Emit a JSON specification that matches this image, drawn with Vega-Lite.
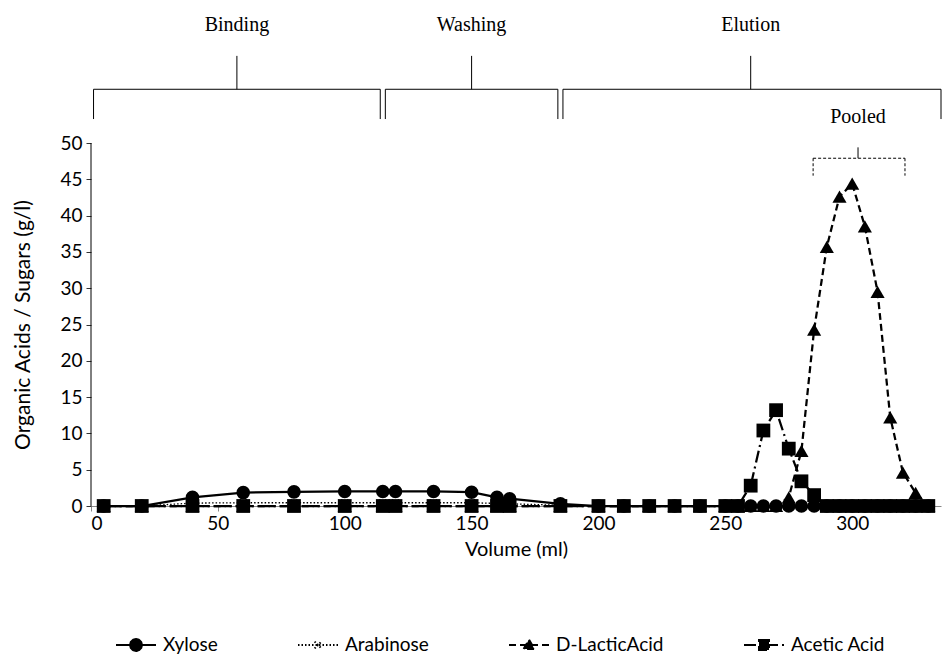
{
  "$schema": "https://vega.github.io/schema/vega-lite/v6.json",
  "width": 850,
  "height": 363,
  "padding": {"left": 12, "top": 15, "right": 3, "bottom": 8},
  "background": "white",
  "config": {
    "view": {"stroke": null},
    "font": "Lato",
    "axis": {"grid": false},
    "axisX": {"labelFont": "Lato", "labelFontSize": 19, "labelColor": "black", "titleFont": "Lato", "titleFontSize": 20, "titleFontWeight": "normal", "titleColor": "black", "domainColor": "#888888", "tickColor": "#888888", "tickSize": 5, "labelPadding": 3, "titlePadding": 6},
    "axisY": {"domain": false, "labelFont": "Lato", "labelFontSize": 19, "labelColor": "black", "titleFont": "Lato", "titleFontSize": 21, "titleFontWeight": "normal", "titleColor": "black", "tickColor": "#333333", "tickSize": 5, "labelPadding": 4, "titlePadding": 26},
    "legend": {"orient": "none", "legendX": 24, "legendY": 481, "direction": "horizontal", "columns": 4, "labelFont": "Lato", "labelFontSize": 19, "labelColor": "black", "columnPadding": 76, "labelOffset": 6, "symbolSize": 1600, "symbolStrokeWidth": 2}
  },
  "datasets": {
    "fractions": [
      {"v":5,"s":"Xylose","c":0},{"v":20,"s":"Xylose","c":0},{"v":40,"s":"Xylose","c":1.2},{"v":60,"s":"Xylose","c":1.85},{"v":80,"s":"Xylose","c":1.95},{"v":100,"s":"Xylose","c":2.0},{"v":115,"s":"Xylose","c":2.0},{"v":120,"s":"Xylose","c":2.0},{"v":135,"s":"Xylose","c":2.0},{"v":150,"s":"Xylose","c":1.9},{"v":160,"s":"Xylose","c":1.2},{"v":165,"s":"Xylose","c":1.0},{"v":185,"s":"Xylose","c":0.3},{"v":200,"s":"Xylose","c":0},{"v":210,"s":"Xylose","c":0},{"v":220,"s":"Xylose","c":0},{"v":230,"s":"Xylose","c":0},{"v":240,"s":"Xylose","c":0},{"v":250,"s":"Xylose","c":0},{"v":255,"s":"Xylose","c":0},{"v":260,"s":"Xylose","c":0},{"v":265,"s":"Xylose","c":0},{"v":270,"s":"Xylose","c":0},{"v":275,"s":"Xylose","c":0},{"v":280,"s":"Xylose","c":0},{"v":285,"s":"Xylose","c":0},{"v":290,"s":"Xylose","c":0},{"v":295,"s":"Xylose","c":0},{"v":300,"s":"Xylose","c":0},{"v":305,"s":"Xylose","c":0},{"v":310,"s":"Xylose","c":0},{"v":315,"s":"Xylose","c":0},{"v":320,"s":"Xylose","c":0},{"v":325,"s":"Xylose","c":0},{"v":330,"s":"Xylose","c":0},
      {"v":5,"s":"Arabinose","c":0},{"v":20,"s":"Arabinose","c":0},{"v":40,"s":"Arabinose","c":0.4},{"v":60,"s":"Arabinose","c":0.45},{"v":80,"s":"Arabinose","c":0.45},{"v":100,"s":"Arabinose","c":0.45},{"v":115,"s":"Arabinose","c":0.45},{"v":120,"s":"Arabinose","c":0.45},{"v":135,"s":"Arabinose","c":0.45},{"v":150,"s":"Arabinose","c":0.45},{"v":160,"s":"Arabinose","c":0.35},{"v":165,"s":"Arabinose","c":0.3},{"v":185,"s":"Arabinose","c":0.1},{"v":200,"s":"Arabinose","c":0},{"v":210,"s":"Arabinose","c":0},{"v":220,"s":"Arabinose","c":0},{"v":230,"s":"Arabinose","c":0},{"v":240,"s":"Arabinose","c":0},{"v":250,"s":"Arabinose","c":0},{"v":255,"s":"Arabinose","c":0},{"v":260,"s":"Arabinose","c":0},{"v":265,"s":"Arabinose","c":0},{"v":270,"s":"Arabinose","c":0},{"v":275,"s":"Arabinose","c":0},{"v":280,"s":"Arabinose","c":0},{"v":285,"s":"Arabinose","c":0},{"v":290,"s":"Arabinose","c":0},{"v":295,"s":"Arabinose","c":0},{"v":300,"s":"Arabinose","c":0},{"v":305,"s":"Arabinose","c":0},{"v":310,"s":"Arabinose","c":0},{"v":315,"s":"Arabinose","c":0},{"v":320,"s":"Arabinose","c":0},{"v":325,"s":"Arabinose","c":0},{"v":330,"s":"Arabinose","c":0},
      {"v":5,"s":"D-LacticAcid","c":0},{"v":20,"s":"D-LacticAcid","c":0},{"v":40,"s":"D-LacticAcid","c":0},{"v":60,"s":"D-LacticAcid","c":0},{"v":80,"s":"D-LacticAcid","c":0},{"v":100,"s":"D-LacticAcid","c":0},{"v":115,"s":"D-LacticAcid","c":0},{"v":120,"s":"D-LacticAcid","c":0},{"v":135,"s":"D-LacticAcid","c":0},{"v":150,"s":"D-LacticAcid","c":0},{"v":160,"s":"D-LacticAcid","c":0},{"v":165,"s":"D-LacticAcid","c":0},{"v":185,"s":"D-LacticAcid","c":0},{"v":200,"s":"D-LacticAcid","c":0},{"v":210,"s":"D-LacticAcid","c":0},{"v":220,"s":"D-LacticAcid","c":0},{"v":230,"s":"D-LacticAcid","c":0},{"v":240,"s":"D-LacticAcid","c":0},{"v":250,"s":"D-LacticAcid","c":0},{"v":255,"s":"D-LacticAcid","c":0},{"v":260,"s":"D-LacticAcid","c":0},{"v":265,"s":"D-LacticAcid","c":0},{"v":270,"s":"D-LacticAcid","c":0},{"v":275,"s":"D-LacticAcid","c":1.2},{"v":280,"s":"D-LacticAcid","c":7.6},{"v":285,"s":"D-LacticAcid","c":24.3},{"v":290,"s":"D-LacticAcid","c":35.7},{"v":295,"s":"D-LacticAcid","c":42.6},{"v":300,"s":"D-LacticAcid","c":44.4},{"v":305,"s":"D-LacticAcid","c":38.5},{"v":310,"s":"D-LacticAcid","c":29.5},{"v":315,"s":"D-LacticAcid","c":12.2},{"v":320,"s":"D-LacticAcid","c":4.6},{"v":325,"s":"D-LacticAcid","c":1.8},{"v":330,"s":"D-LacticAcid","c":0},
      {"v":5,"s":"Acetic Acid","c":0},{"v":20,"s":"Acetic Acid","c":0},{"v":40,"s":"Acetic Acid","c":0},{"v":60,"s":"Acetic Acid","c":0},{"v":80,"s":"Acetic Acid","c":0},{"v":100,"s":"Acetic Acid","c":0},{"v":115,"s":"Acetic Acid","c":0},{"v":120,"s":"Acetic Acid","c":0},{"v":135,"s":"Acetic Acid","c":0},{"v":150,"s":"Acetic Acid","c":0},{"v":160,"s":"Acetic Acid","c":0},{"v":165,"s":"Acetic Acid","c":0},{"v":185,"s":"Acetic Acid","c":0},{"v":200,"s":"Acetic Acid","c":0},{"v":210,"s":"Acetic Acid","c":0},{"v":220,"s":"Acetic Acid","c":0},{"v":230,"s":"Acetic Acid","c":0},{"v":240,"s":"Acetic Acid","c":0},{"v":250,"s":"Acetic Acid","c":0},{"v":255,"s":"Acetic Acid","c":0},{"v":260,"s":"Acetic Acid","c":2.8},{"v":265,"s":"Acetic Acid","c":10.4},{"v":270,"s":"Acetic Acid","c":13.2},{"v":275,"s":"Acetic Acid","c":7.9},{"v":280,"s":"Acetic Acid","c":3.4},{"v":285,"s":"Acetic Acid","c":1.5},{"v":290,"s":"Acetic Acid","c":0},{"v":295,"s":"Acetic Acid","c":0},{"v":300,"s":"Acetic Acid","c":0},{"v":305,"s":"Acetic Acid","c":0},{"v":310,"s":"Acetic Acid","c":0},{"v":315,"s":"Acetic Acid","c":0},{"v":320,"s":"Acetic Acid","c":0},{"v":325,"s":"Acetic Acid","c":0},{"v":330,"s":"Acetic Acid","c":0}
    ],
    "phases": [
      {"phase": "Binding", "start": 1, "end": 114, "mid": 57.5},
      {"phase": "Washing", "start": 116, "end": 184, "mid": 150},
      {"phase": "Elution", "start": 186, "end": 335, "mid": 260}
    ],
    "pooled": [
      {"phase": "Pooled", "start": 284.6, "end": 320.8, "mid": 302.3}
    ]
  },
  "layer": [
    {
      "data": {"name": "fractions"},
      "transform": [{"filter": "datum.s == 'Xylose'"}],
      "mark": {"type": "line", "color": "black", "strokeWidth": 2.25},
      "encoding": {
        "x": {"field": "v", "type": "quantitative", "title": "Volume (ml)", "scale": {"domain": [0, 335], "nice": false}, "axis": {"values": [0, 50, 100, 150, 200, 250, 300]}},
        "y": {"field": "c", "type": "quantitative", "title": "Organic Acids / Sugars (g/l)", "scale": {"domain": [0, 50], "nice": false}, "axis": {"values": [0, 5, 10, 15, 20, 25, 30, 35, 40, 45, 50]}}
      }
    },
    {
      "data": {"name": "fractions"},
      "transform": [{"filter": "datum.s == 'Arabinose'"}],
      "mark": {"type": "line", "color": "black", "strokeWidth": 1.3, "strokeDash": [1.5, 2]},
      "encoding": {
        "x": {"field": "v", "type": "quantitative", "title": "Volume (ml)", "scale": {"domain": [0, 335], "nice": false}, "axis": {"values": [0, 50, 100, 150, 200, 250, 300]}},
        "y": {"field": "c", "type": "quantitative", "title": "Organic Acids / Sugars (g/l)", "scale": {"domain": [0, 50], "nice": false}, "axis": {"values": [0, 5, 10, 15, 20, 25, 30, 35, 40, 45, 50]}}
      }
    },
    {
      "data": {"name": "fractions"},
      "transform": [{"filter": "datum.s == 'D-LacticAcid'"}],
      "mark": {"type": "line", "color": "black", "strokeWidth": 2.25, "strokeDash": [7, 4]},
      "encoding": {
        "x": {"field": "v", "type": "quantitative", "title": "Volume (ml)", "scale": {"domain": [0, 335], "nice": false}, "axis": {"values": [0, 50, 100, 150, 200, 250, 300]}},
        "y": {"field": "c", "type": "quantitative", "title": "Organic Acids / Sugars (g/l)", "scale": {"domain": [0, 50], "nice": false}, "axis": {"values": [0, 5, 10, 15, 20, 25, 30, 35, 40, 45, 50]}}
      }
    },
    {
      "data": {"name": "fractions"},
      "transform": [{"filter": "datum.s == 'Acetic Acid'"}],
      "mark": {"type": "line", "color": "black", "strokeWidth": 2.25, "strokeDash": [12, 4, 2, 4]},
      "encoding": {
        "x": {"field": "v", "type": "quantitative", "title": "Volume (ml)", "scale": {"domain": [0, 335], "nice": false}, "axis": {"values": [0, 50, 100, 150, 200, 250, 300]}},
        "y": {"field": "c", "type": "quantitative", "title": "Organic Acids / Sugars (g/l)", "scale": {"domain": [0, 50], "nice": false}, "axis": {"values": [0, 5, 10, 15, 20, 25, 30, 35, 40, 45, 50]}}
      }
    },
    {
      "data": {"name": "fractions"},
      "transform": [{"filter": "datum.s == 'Xylose'"}],
      "mark": {"type": "point", "shape": "circle", "filled": true, "color": "black", "size": 185, "opacity": 1},
      "encoding": {
        "x": {"field": "v", "type": "quantitative", "title": "Volume (ml)", "scale": {"domain": [0, 335], "nice": false}, "axis": {"values": [0, 50, 100, 150, 200, 250, 300]}},
        "y": {"field": "c", "type": "quantitative", "title": "Organic Acids / Sugars (g/l)", "scale": {"domain": [0, 50], "nice": false}, "axis": {"values": [0, 5, 10, 15, 20, 25, 30, 35, 40, 45, 50]}}
      }
    },
    {
      "data": {"name": "fractions"},
      "transform": [{"filter": "datum.s == 'Arabinose'"}],
      "mark": {"type": "point", "shape": "M-1,-1L1,1M-1,1L1,-1", "filled": false, "color": "black", "size": 45, "strokeWidth": 1.3, "opacity": 1},
      "encoding": {
        "x": {"field": "v", "type": "quantitative", "title": "Volume (ml)", "scale": {"domain": [0, 335], "nice": false}, "axis": {"values": [0, 50, 100, 150, 200, 250, 300]}},
        "y": {"field": "c", "type": "quantitative", "title": "Organic Acids / Sugars (g/l)", "scale": {"domain": [0, 50], "nice": false}, "axis": {"values": [0, 5, 10, 15, 20, 25, 30, 35, 40, 45, 50]}}
      }
    },
    {
      "data": {"name": "fractions"},
      "transform": [{"filter": "datum.s == 'D-LacticAcid'"}],
      "mark": {"type": "point", "shape": "triangle-up", "filled": true, "color": "black", "size": 200, "opacity": 1},
      "encoding": {
        "x": {"field": "v", "type": "quantitative", "title": "Volume (ml)", "scale": {"domain": [0, 335], "nice": false}, "axis": {"values": [0, 50, 100, 150, 200, 250, 300]}},
        "y": {"field": "c", "type": "quantitative", "title": "Organic Acids / Sugars (g/l)", "scale": {"domain": [0, 50], "nice": false}, "axis": {"values": [0, 5, 10, 15, 20, 25, 30, 35, 40, 45, 50]}}
      }
    },
    {
      "data": {"name": "fractions"},
      "transform": [{"filter": "datum.s == 'Acetic Acid'"}],
      "mark": {"type": "point", "shape": "square", "filled": true, "color": "black", "size": 190, "opacity": 1},
      "encoding": {
        "x": {"field": "v", "type": "quantitative", "title": "Volume (ml)", "scale": {"domain": [0, 335], "nice": false}, "axis": {"values": [0, 50, 100, 150, 200, 250, 300]}},
        "y": {"field": "c", "type": "quantitative", "title": "Organic Acids / Sugars (g/l)", "scale": {"domain": [0, 50], "nice": false}, "axis": {"values": [0, 5, 10, 15, 20, 25, 30, 35, 40, 45, 50]}}
      }
    },
    {
      "data": {"values": [{}]},
      "mark": {"type": "rule", "color": "black", "strokeWidth": 1},
      "encoding": {
        "x": {"datum": 0, "title": "Volume (ml)", "scale": {"domain": [0, 335], "nice": false}, "axis": {"values": [0, 50, 100, 150, 200, 250, 300]}},
        "y": {"datum": 0, "title": "Organic Acids / Sugars (g/l)", "scale": {"domain": [0, 50], "nice": false}, "axis": {"values": [0, 5, 10, 15, 20, 25, 30, 35, 40, 45, 50]}},
        "y2": {"datum": 50}
      }
    },
    {
      "data": {"name": "phases"},
      "mark": {"type": "rule", "color": "black", "strokeWidth": 1},
      "encoding": {
        "x": {"field": "start", "type": "quantitative", "title": "Volume (ml)", "scale": {"domain": [0, 335], "nice": false}, "axis": {"values": [0, 50, 100, 150, 200, 250, 300]}},
        "x2": {"field": "end"},
        "y": {"datum": 57.4, "title": "Organic Acids / Sugars (g/l)", "scale": {"domain": [0, 50], "nice": false}, "axis": {"values": [0, 5, 10, 15, 20, 25, 30, 35, 40, 45, 50]}}
      }
    },
    {
      "data": {"name": "phases"},
      "mark": {"type": "rule", "color": "black", "strokeWidth": 1},
      "encoding": {
        "x": {"field": "start", "type": "quantitative", "title": "Volume (ml)", "scale": {"domain": [0, 335], "nice": false}, "axis": {"values": [0, 50, 100, 150, 200, 250, 300]}},
        "y": {"datum": 57.4, "title": "Organic Acids / Sugars (g/l)", "scale": {"domain": [0, 50], "nice": false}, "axis": {"values": [0, 5, 10, 15, 20, 25, 30, 35, 40, 45, 50]}},
        "y2": {"datum": 53.3}
      }
    },
    {
      "data": {"name": "phases"},
      "mark": {"type": "rule", "color": "black", "strokeWidth": 1},
      "encoding": {
        "x": {"field": "end", "type": "quantitative", "title": "Volume (ml)", "scale": {"domain": [0, 335], "nice": false}, "axis": {"values": [0, 50, 100, 150, 200, 250, 300]}},
        "y": {"datum": 57.4, "title": "Organic Acids / Sugars (g/l)", "scale": {"domain": [0, 50], "nice": false}, "axis": {"values": [0, 5, 10, 15, 20, 25, 30, 35, 40, 45, 50]}},
        "y2": {"datum": 53.3}
      }
    },
    {
      "data": {"name": "phases"},
      "mark": {"type": "rule", "color": "black", "strokeWidth": 1},
      "encoding": {
        "x": {"field": "mid", "type": "quantitative", "title": "Volume (ml)", "scale": {"domain": [0, 335], "nice": false}, "axis": {"values": [0, 50, 100, 150, 200, 250, 300]}},
        "y": {"datum": 57.4, "title": "Organic Acids / Sugars (g/l)", "scale": {"domain": [0, 50], "nice": false}, "axis": {"values": [0, 5, 10, 15, 20, 25, 30, 35, 40, 45, 50]}},
        "y2": {"datum": 62.0}
      }
    },
    {
      "data": {"name": "phases"},
      "mark": {"type": "text", "font": "Liberation Serif", "fontSize": 20, "color": "black", "baseline": "middle", "align": "center"},
      "encoding": {
        "x": {"field": "mid", "type": "quantitative", "title": "Volume (ml)", "scale": {"domain": [0, 335], "nice": false}, "axis": {"values": [0, 50, 100, 150, 200, 250, 300]}},
        "y": {"datum": 66.2, "title": "Organic Acids / Sugars (g/l)", "scale": {"domain": [0, 50], "nice": false}, "axis": {"values": [0, 5, 10, 15, 20, 25, 30, 35, 40, 45, 50]}},
        "text": {"field": "phase"}
      }
    },
    {
      "data": {"name": "pooled"},
      "mark": {"type": "rule", "color": "black", "strokeWidth": 1, "strokeDash": [3, 2]},
      "encoding": {
        "x": {"field": "start", "type": "quantitative", "title": "Volume (ml)", "scale": {"domain": [0, 335], "nice": false}, "axis": {"values": [0, 50, 100, 150, 200, 250, 300]}},
        "x2": {"field": "end"},
        "y": {"datum": 47.9, "title": "Organic Acids / Sugars (g/l)", "scale": {"domain": [0, 50], "nice": false}, "axis": {"values": [0, 5, 10, 15, 20, 25, 30, 35, 40, 45, 50]}}
      }
    },
    {
      "data": {"name": "pooled"},
      "mark": {"type": "rule", "color": "black", "strokeWidth": 1, "strokeDash": [3, 2]},
      "encoding": {
        "x": {"field": "start", "type": "quantitative", "title": "Volume (ml)", "scale": {"domain": [0, 335], "nice": false}, "axis": {"values": [0, 50, 100, 150, 200, 250, 300]}},
        "y": {"datum": 47.9, "title": "Organic Acids / Sugars (g/l)", "scale": {"domain": [0, 50], "nice": false}, "axis": {"values": [0, 5, 10, 15, 20, 25, 30, 35, 40, 45, 50]}},
        "y2": {"datum": 45.5}
      }
    },
    {
      "data": {"name": "pooled"},
      "mark": {"type": "rule", "color": "black", "strokeWidth": 1, "strokeDash": [3, 2]},
      "encoding": {
        "x": {"field": "end", "type": "quantitative", "title": "Volume (ml)", "scale": {"domain": [0, 335], "nice": false}, "axis": {"values": [0, 50, 100, 150, 200, 250, 300]}},
        "y": {"datum": 47.9, "title": "Organic Acids / Sugars (g/l)", "scale": {"domain": [0, 50], "nice": false}, "axis": {"values": [0, 5, 10, 15, 20, 25, 30, 35, 40, 45, 50]}},
        "y2": {"datum": 45.5}
      }
    },
    {
      "data": {"name": "pooled"},
      "mark": {"type": "rule", "color": "black", "strokeWidth": 1},
      "encoding": {
        "x": {"field": "mid", "type": "quantitative", "title": "Volume (ml)", "scale": {"domain": [0, 335], "nice": false}, "axis": {"values": [0, 50, 100, 150, 200, 250, 300]}},
        "y": {"datum": 47.9, "title": "Organic Acids / Sugars (g/l)", "scale": {"domain": [0, 50], "nice": false}, "axis": {"values": [0, 5, 10, 15, 20, 25, 30, 35, 40, 45, 50]}},
        "y2": {"datum": 49.4}
      }
    },
    {
      "data": {"name": "pooled"},
      "mark": {"type": "text", "font": "Liberation Serif", "fontSize": 20, "color": "black", "baseline": "middle", "align": "center"},
      "encoding": {
        "x": {"field": "mid", "type": "quantitative", "title": "Volume (ml)", "scale": {"domain": [0, 335], "nice": false}, "axis": {"values": [0, 50, 100, 150, 200, 250, 300]}},
        "y": {"datum": 53.6, "title": "Organic Acids / Sugars (g/l)", "scale": {"domain": [0, 50], "nice": false}, "axis": {"values": [0, 5, 10, 15, 20, 25, 30, 35, 40, 45, 50]}},
        "text": {"field": "phase"}
      }
    },
    {
      "data": {"name": "fractions"},
      "transform": [{"filter": "datum.c < 0"}],
      "mark": {"type": "point", "filled": true, "color": "black", "strokeWidth": 2, "size": 1600, "opacity": 1},
      "encoding": {
        "shape": {"field": "s", "type": "nominal", "title": null, "scale": {"domain": ["Xylose", "Arabinose", "D-LacticAcid", "Acetic Acid"], "range": [
          "M-1,0H1M0.3,0L0.26,0.15L0.15,0.26L0,0.3L-0.15,0.26L-0.26,0.15L-0.3,0L-0.26,-0.15L-0.15,-0.26L0,-0.3L0.15,-0.26L0.26,-0.15Z",
          "M-1,0H1M-0.17,-0.17L0.17,0.17M-0.17,0.17L0.17,-0.17",
          "M-1,0H1M-0.27,0.2L0,-0.27L0.27,0.2Z",
          "M-1,0H1M-0.25,-0.25H0.25V0.25H-0.25Z"
        ]}},
        "strokeDash": {"field": "s", "type": "nominal", "title": null, "scale": {"domain": ["Xylose", "Arabinose", "D-LacticAcid", "Acetic Acid"], "range": [[1, 0], [1.5, 2], [7, 4], [12, 4, 2, 4]]}},
        "stroke": {"field": "s", "type": "nominal", "title": null, "scale": {"domain": ["Xylose", "Arabinose", "D-LacticAcid", "Acetic Acid"], "range": ["black", "black", "black", "black"]}},
        "fill": {"field": "s", "type": "nominal", "title": null, "scale": {"domain": ["Xylose", "Arabinose", "D-LacticAcid", "Acetic Acid"], "range": ["black", "black", "black", "black"]}}
      }
    }
  ]
}
